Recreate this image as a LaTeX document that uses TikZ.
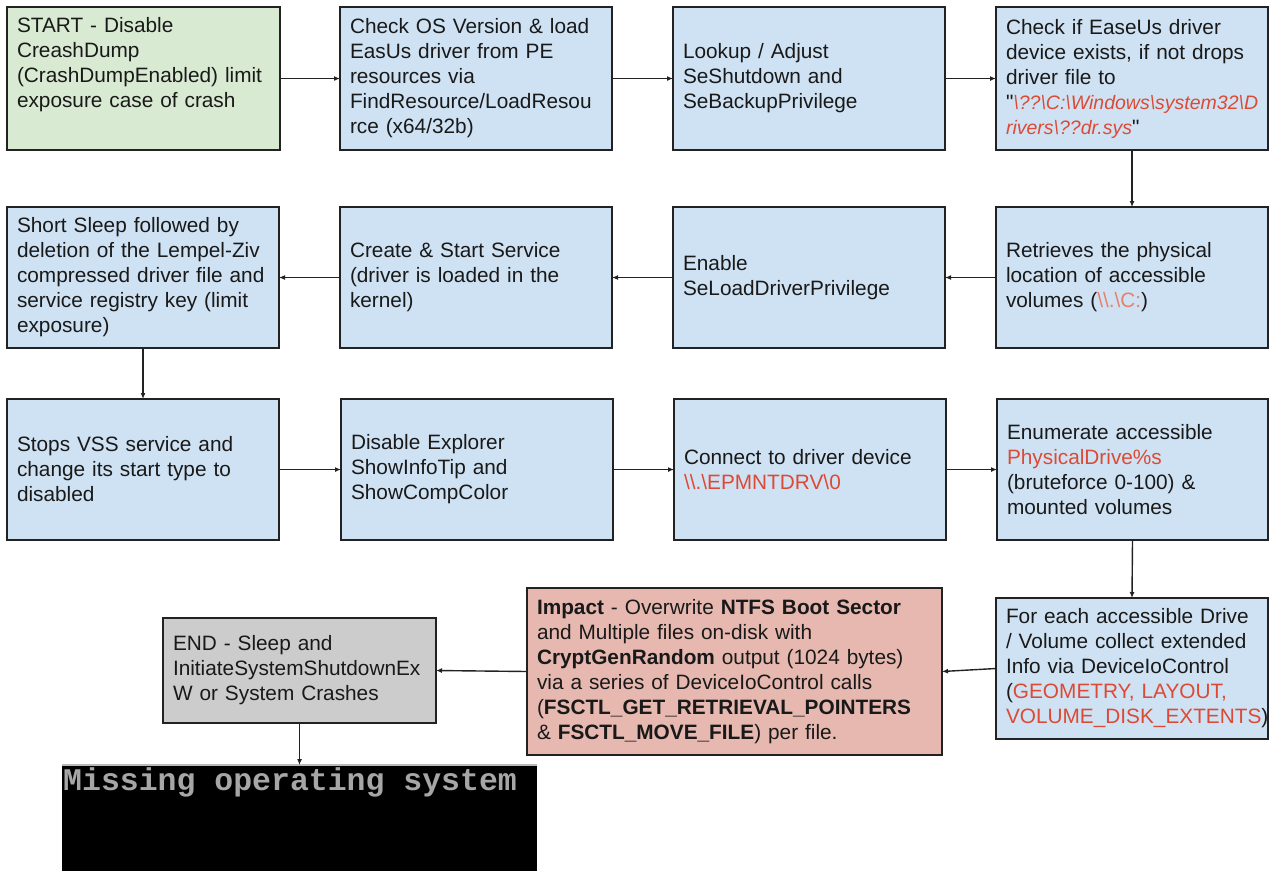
\documentclass[tikz,border=0pt]{standalone}
\usepackage{fontspec}
\setmainfont{Liberation Sans}
\newfontfamily\qfont{Liberation Sans}
\newfontfamily\scrfont{Liberation Mono}
\usetikzlibrary{arrows.meta}
\definecolor{bluebox}{HTML}{CFE2F3}
\definecolor{greenbox}{HTML}{D9EAD3}
\definecolor{redbox}{HTML}{E6B8AF}
\definecolor{graybox}{HTML}{CCCCCC}
\definecolor{redtxt}{HTML}{DC4A35}
\definecolor{salmontxt}{HTML}{E8806C}
\definecolor{edgecol}{HTML}{222222}
\newcommand{\bs}{\textbackslash}
\newcommand{\rt}[1]{\textcolor{redtxt}{#1}}
\newcommand{\qt}{{\qfont\char34}}
\begin{document}
\begin{tikzpicture}[x=1pt,y=-1pt,
  box/.style={draw=edgecol, line width=1.4pt, rectangle, align=left,
    inner xsep=10pt, inner ysep=0pt, outer sep=0pt, anchor=north west,
    font=\fontsize{20.8}{25}\selectfont, text=black!90},
  conn/.style={draw=edgecol, line width=1.4pt, -{Latex[length=6pt,width=5pt]}}]
\useasboundingbox (0,0) rectangle (1271,871);
\fill[white] (0,0) rectangle (1271,871);

% row 1
\node[box, fill=greenbox, minimum width=273pt, minimum height=143pt, text width=253pt] (b1) at (7,7)
 {START - Disable\\ CreashDump\\ (CrashDumpEnabled) limit\\ exposure case of crash\\ \strut};
\node[box, fill=bluebox, minimum width=272pt, minimum height=143pt, text width=252pt] (b2) at (340,7)
 {Check OS Version \& load\\ EasUs driver from PE\\ resources via\\ FindResource/LoadResou\\ rce (x64/32b)};
\node[box, fill=bluebox, minimum width=272pt, minimum height=143pt, text width=252pt] (b3) at (673,7)
 {Lookup / Adjust\\ SeShutdown and\\ SeBackupPrivilege};
\node[box, fill=bluebox, minimum width=272pt, minimum height=143pt, text width=252pt] (b4) at (996,7)
 {Check if EaseUs driver\\ device exists, if not drops\\ driver file to\\
  \qt{\fontsize{19.5}{25}\selectfont\itshape\rt{\bs??\bs C:\bs Windows\bs system32\bs D}}\\
  {\fontsize{19.5}{25}\selectfont\itshape\rt{rivers\bs??dr.sys}}\qt};

% row 2
\node[box, fill=bluebox, minimum width=272pt, minimum height=141pt, text width=252pt] (b5) at (7,207)
 {Short Sleep followed by\\ deletion of the Lempel-Ziv\\ compressed driver file and\\ service registry key (limit\\ exposure)};
\node[box, fill=bluebox, minimum width=272pt, minimum height=141pt, text width=252pt] (b6) at (340,207)
 {Create \& Start Service\\ (driver is loaded in the\\ kernel)};
\node[box, fill=bluebox, minimum width=272pt, minimum height=141pt, text width=252pt] (b7) at (673,207)
 {Enable\\ SeLoadDriverPrivilege};
\node[box, fill=bluebox, minimum width=272pt, minimum height=141pt, text width=252pt] (b8) at (996,207)
 {Retrieves the physical\\ location of accessible\\ volumes (\textcolor{salmontxt}{\bs\bs.\bs C:})};

% row 3
\node[box, fill=bluebox, minimum width=272pt, minimum height=141pt, text width=252pt] (b9) at (7,399)
 {Stops VSS service and\\ change its start type to\\ disabled};
\node[box, fill=bluebox, minimum width=272pt, minimum height=141pt, text width=252pt] (b10) at (341,399)
 {Disable Explorer\\ ShowInfoTip and\\ ShowCompColor};
\node[box, fill=bluebox, minimum width=272pt, minimum height=141pt, text width=252pt] (b11) at (674,399)
 {Connect to driver device\\ \rt{\bs\bs.\bs EPMNTDRV\bs 0}};
\node[box, fill=bluebox, minimum width=271pt, minimum height=141pt, text width=251pt] (b12) at (997,399)
 {Enumerate accessible\\ \rt{PhysicalDrive\%s}\\ (bruteforce 0-100) \&\\ mounted volumes};

% row 4
\node[box, fill=bluebox, minimum width=272pt, minimum height=141pt, text width=252pt] (b13) at (996,598)
 {For each accessible Drive\\ / Volume collect extended\\ Info via DeviceIoControl\\ (\rt{GEOMETRY, LAYOUT,}\\ \rt{VOLUME\_DISK\_EXTENTS})};
\node[box, fill=redbox, minimum width=415pt, minimum height=167pt, text width=395pt] (b14) at (527,588)
 {\textbf{Impact} - Overwrite \textbf{NTFS Boot Sector}\\ and Multiple files on-disk with\\ \textbf{CryptGenRandom} output (1024 bytes)\\ via a series of DeviceIoControl calls\\ (\textbf{FSCTL\_GET\_RETRIEVAL\_POINTERS}\\ \& \textbf{FSCTL\_MOVE\_FILE}) per file.};
\node[box, fill=graybox, minimum width=273pt, minimum height=105pt, text width=253pt] (b15) at (163,618)
 {END - Sleep and\\ InitiateSystemShutdownEx\\ W or System Crashes};

% screen
\node[fill=black, minimum width=475pt, minimum height=106pt, anchor=north west, inner sep=0pt, outer sep=0pt] (scr) at (62,765) {};
\draw[gray!55, line width=2pt] (scr.north west) -- (scr.north east);
\node[anchor=base west, inner sep=0pt, font={\scrfont\bfseries\fontsize{31.5}{32}\selectfont}, text=gray!70!white] (msg) at (63,790) {Missing operating system};

% connectors
\draw[conn] (b1.east) -- (b2.west);
\draw[conn] (b2.east) -- (b3.west);
\draw[conn] (b3.east) -- (b4.west);
\draw[conn] (b4.south) -- (b8.north);
\draw[conn] (b8.west) -- (b7.east);
\draw[conn] (b7.west) -- (b6.east);
\draw[conn] (b6.west) -- (b5.east);
\draw[conn] (b5.south) -- (b9.north);
\draw[conn] (b9.east) -- (b10.west);
\draw[conn] (b10.east) -- (b11.west);
\draw[conn] (b11.east) -- (b12.west);
\draw[conn] (b12.south) -- (b13.north);
\draw[conn] (b13.west) -- (b14.east);
\draw[conn] (b14.west) -- (b15.east);
\draw[conn] (b15.south) -- (scr.north);
\end{tikzpicture}
\end{document}
